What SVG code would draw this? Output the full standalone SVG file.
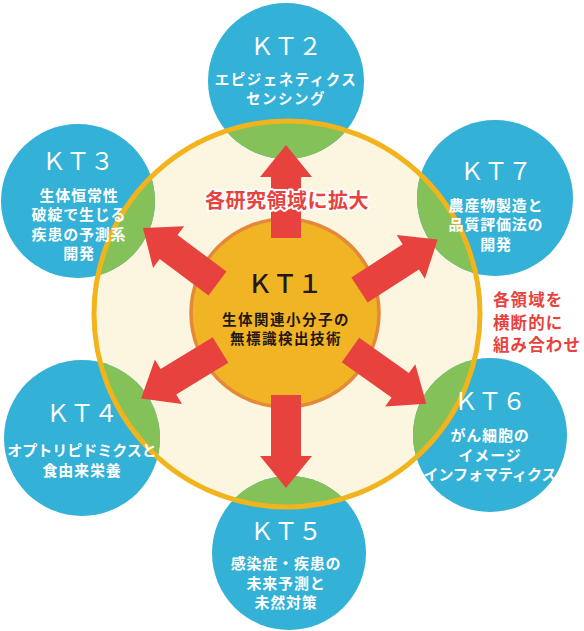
<svg xmlns="http://www.w3.org/2000/svg" width="584" height="631" viewBox="0 0 584 631">
<style>
.sat{fill:#33b1d7}
.grn{fill:#84c159}
.arr{fill:#e8423f}
.kt{font-family:"Noto Sans CJK JP","Noto Sans",sans-serif;font-size:24px;fill:#fff;text-anchor:middle}
.sub{font-family:"Noto Sans CJK JP",sans-serif;font-size:15px;font-weight:700;fill:#fff;text-anchor:middle;letter-spacing:0.8px}
.sub.t{font-size:14.5px;letter-spacing:1.5px}
.kt1{font-family:"Noto Sans CJK JP","Noto Sans",sans-serif;font-size:25px;font-weight:500;fill:#231815;text-anchor:middle}
.sub1{font-family:"Noto Sans CJK JP",sans-serif;font-size:14.5px;font-weight:700;fill:#231815;text-anchor:middle;letter-spacing:1.5px}
.red{font-family:"Noto Sans CJK JP",sans-serif;font-weight:700;fill:#e8423f}
</style>
<defs>
<clipPath id="inner"><circle cx="287" cy="314" r="193"/></clipPath>
<polygon id="arrow" points="0,-15 61,-15 61,-26 93,0 61,26 61,15 0,15"/>
</defs>
<rect width="584" height="631" fill="#fff"/>
<circle cx="287" cy="314" r="193" fill="#fcf6e0"/>
<g id="satellites-bg">
<circle class="sat" cx="286" cy="81" r="78"/>
<circle class="sat" cx="78" cy="201" r="77"/>
<circle class="sat" cx="495" cy="198" r="78"/>
<circle class="sat" cx="82" cy="438" r="78"/>
<circle class="sat" cx="490" cy="435" r="77"/>
<circle class="sat" cx="289" cy="553" r="77"/>
</g>
<g clip-path="url(#inner)">
<circle class="grn" cx="286" cy="81" r="78"/>
<circle class="grn" cx="78" cy="201" r="77"/>
<circle class="grn" cx="495" cy="198" r="78"/>
<circle class="grn" cx="82" cy="438" r="78"/>
<circle class="grn" cx="490" cy="435" r="77"/>
<circle class="grn" cx="289" cy="553" r="77"/>
</g>
<circle cx="287" cy="314" r="193" fill="none" stroke="#f2b41c" stroke-width="5"/>
<g id="kt1">
<circle cx="285" cy="313" r="94" fill="#f0b424" stroke="#e4883a" stroke-width="3.5"/>
<text class="kt1" x="285" y="293">ＫＴ１</text>
<text class="sub1" x="286" y="324.5"><tspan x="286">生体関連小分子の</tspan><tspan x="286" dy="19">無標識検出技術</tspan></text>
</g>
<g id="connectors" class="arr">
<use href="#arrow" transform="translate(286,238) rotate(-90)"/>
<use href="#arrow" transform="translate(286,395) rotate(90)"/>
<use href="#arrow" transform="translate(217.5,283.5) rotate(216.7)"/>
<use href="#arrow" transform="translate(359.5,290) rotate(-32.8)"/>
<use href="#arrow" transform="translate(220.5,350) rotate(148.6)"/>
<use href="#arrow" transform="translate(350.5,350) rotate(35.4)"/>
</g>
<g id="kt2">
<text class="kt" x="286" y="55">ＫＴ２</text>
<text class="sub t" x="286" y="85"><tspan x="286">エピジェネティクス</tspan><tspan x="286" dy="19">センシング</tspan></text>
</g>
<g id="kt3">
<text class="kt" x="78" y="170">ＫＴ３</text>
<text class="sub" x="79" y="201"><tspan x="79">生体恒常性</tspan><tspan x="79" dy="19">破綻で生じる</tspan><tspan x="79" dy="20">疾患の予測系</tspan><tspan x="79" dy="19">開発</tspan></text>
</g>
<g id="kt7">
<text class="kt" x="496" y="180">ＫＴ７</text>
<text class="sub" x="496" y="211"><tspan x="496">農産物製造と</tspan><tspan x="496" dy="19">品質評価法の</tspan><tspan x="496" dy="20">開発</tspan></text>
</g>
<g id="kt4">
<text class="kt" x="82" y="422">ＫＴ４</text>
<text class="sub" x="82" y="456"><tspan x="82" style="letter-spacing:0">オプトリピドミクスと</tspan><tspan x="82" dy="20">食由来栄養</tspan></text>
</g>
<g id="kt6">
<text class="kt" x="490" y="410">ＫＴ６</text>
<text class="sub" x="490" y="441"><tspan x="490">がん細胞の</tspan><tspan x="490" dy="20">イメージ</tspan><tspan x="490" dy="19" style="letter-spacing:0">インフォマティクス</tspan></text>
</g>
<g id="kt5">
<text class="kt" x="286" y="540">ＫＴ５</text>
<text class="sub" x="286" y="569"><tspan x="286">感染症・疾患の</tspan><tspan x="286" dy="20">未来予測と</tspan><tspan x="286" dy="19">未然対策</tspan></text>
</g>
<g id="labels">
<text class="red" x="287" y="208" font-size="20" text-anchor="middle" stroke="#fff" stroke-width="4" stroke-linejoin="round" paint-order="stroke" letter-spacing="0.5">各研究領域に拡大</text>
<text class="red" x="493" y="306" font-size="16.5" letter-spacing="1.1"><tspan x="493">各領域を</tspan><tspan x="493" dy="22.5">横断的に</tspan><tspan x="493" dy="22.5">組み合わせ</tspan></text>
</g>
</svg>
